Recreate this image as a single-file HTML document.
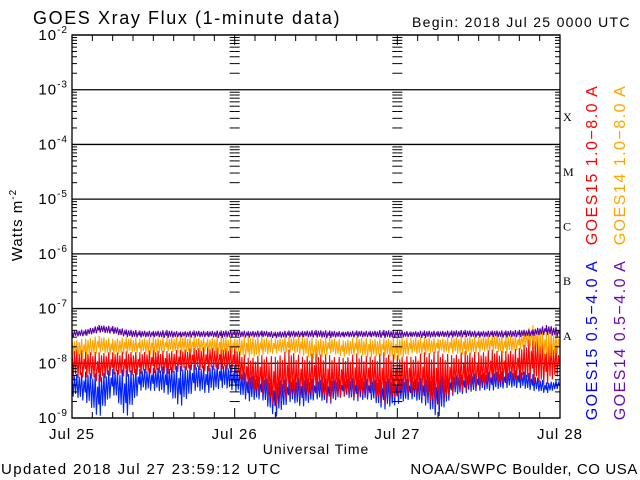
<!DOCTYPE html>
<html><head><meta charset="utf-8"><style>
html,body{margin:0;padding:0;background:#fff;}
svg{display:block;font-family:"Liberation Sans",sans-serif;}
</style></head><body>
<svg id="chart" width="640" height="480" viewBox="0 0 640 480" xmlns="http://www.w3.org/2000/svg">
<rect width="640" height="480" fill="#fff"/>
<text x="33" y="24" font-size="18" letter-spacing="1.6" fill="#000">GOES Xray Flux (1-minute data)</text>
<text x="412" y="27" font-size="14" letter-spacing="1.3" fill="#000">Begin:  2018 Jul 25 0000 UTC</text>
<text transform="translate(22,225) rotate(-90)" text-anchor="middle" font-size="15" letter-spacing="1" fill="#000">Watts m<tspan dy="-6" font-size="10">-2</tspan></text>
<text x="316" y="454" text-anchor="middle" font-size="14" letter-spacing="1" fill="#000">Universal Time</text>
<text x="1" y="474" font-size="15" letter-spacing="1.4" fill="#000">Updated 2018 Jul 27 23:59:12 UTC</text>
<text x="638" y="474" text-anchor="end" font-size="15" letter-spacing="0.6" fill="#000">NOAA/SWPC Boulder, CO USA</text>
<g id="plot"></g>
<g id="series"></g>
<g id="axes"></g>
<text transform="translate(597,165) rotate(-90)" text-anchor="middle" font-size="16" letter-spacing="1.5" fill="#ff0000">GOES15 1.0−8.0 A</text>
<text transform="translate(625,165) rotate(-90)" text-anchor="middle" font-size="16" letter-spacing="1.5" fill="#ffa500">GOES14 1.0−8.0 A</text>
<text transform="translate(597,340) rotate(-90)" text-anchor="middle" font-size="16" letter-spacing="1.5" fill="#0000ff">GOES15 0.5−4.0 A</text>
<text transform="translate(625,340) rotate(-90)" text-anchor="middle" font-size="16" letter-spacing="1.5" fill="#6a0dad">GOES14 0.5−4.0 A</text>
</svg>
<script>
// 2-hour bins over 3 days (37 points), values are log10(flux)
const dayLabels = ["Jul 25","Jul 26","Jul 27","Jul 28"];
const decadeExps = [-2,-3,-4,-5,-6,-7,-8,-9];
const classLetters = ["X","M","C","B","A"];
const goes14ShortHi = [-7.40,-7.38,-7.30,-7.32,-7.38,-7.40,-7.41,-7.39,-7.42,-7.40,-7.41,-7.40,-7.39,-7.41,-7.40,-7.42,-7.40,-7.41,-7.39,-7.40,-7.42,-7.40,-7.41,-7.39,-7.40,-7.42,-7.40,-7.41,-7.40,-7.39,-7.41,-7.40,-7.40,-7.39,-7.38,-7.30,-7.35];
const goes14ShortLo = [-7.52,-7.50,-7.44,-7.46,-7.52,-7.53,-7.52,-7.54,-7.52,-7.53,-7.52,-7.54,-7.52,-7.53,-7.52,-7.54,-7.53,-7.52,-7.53,-7.54,-7.52,-7.53,-7.52,-7.54,-7.53,-7.52,-7.54,-7.52,-7.53,-7.52,-7.53,-7.52,-7.53,-7.52,-7.50,-7.48,-7.52];
const goes14LongHi = [-7.58,-7.55,-7.50,-7.55,-7.52,-7.55,-7.52,-7.54,-7.50,-7.52,-7.55,-7.50,-7.55,-7.50,-7.52,-7.55,-7.52,-7.50,-7.55,-7.52,-7.58,-7.52,-7.55,-7.55,-7.52,-7.54,-7.52,-7.55,-7.52,-7.50,-7.52,-7.48,-7.50,-7.48,-7.30,-7.40,-7.45];
const goes14LongLo = [-7.85,-7.90,-7.80,-7.85,-7.82,-7.80,-7.85,-7.78,-7.82,-7.80,-7.78,-7.85,-7.80,-7.92,-7.85,-7.82,-7.80,-7.85,-7.95,-7.82,-7.88,-7.85,-7.90,-7.85,-7.95,-7.82,-7.85,-7.80,-7.82,-7.85,-7.80,-7.78,-7.82,-7.75,-7.70,-8.00,-7.80];
const goes15LongHi = [-7.70,-7.78,-7.80,-7.80,-7.78,-7.80,-7.75,-7.78,-7.75,-7.72,-7.70,-7.72,-7.70,-7.90,-7.85,-7.88,-7.75,-7.88,-7.80,-7.85,-7.90,-7.82,-7.88,-7.80,-7.85,-7.88,-7.80,-7.78,-7.85,-7.78,-7.80,-7.75,-7.78,-7.72,-7.50,-7.60,-7.70];
const goes15LongLo = [-8.30,-8.25,-8.35,-8.20,-8.25,-8.20,-8.18,-8.20,-8.15,-8.12,-8.15,-8.10,-8.15,-8.50,-8.55,-8.80,-8.60,-8.65,-8.55,-8.70,-8.60,-8.65,-8.55,-8.75,-8.60,-8.55,-8.65,-8.80,-8.55,-8.50,-8.45,-8.40,-8.35,-8.30,-8.35,-8.40,-8.20];
const goes15ShortHi = [-8.20,-8.15,-8.20,-8.10,-8.12,-8.10,-8.08,-8.05,-8.05,-8.02,-8.05,-8.00,-8.05,-8.20,-8.25,-8.30,-8.30,-8.25,-8.30,-8.28,-8.30,-8.25,-8.30,-8.28,-8.25,-8.30,-8.25,-8.20,-8.22,-8.20,-8.18,-8.15,-8.15,-8.12,-8.20,-8.35,-8.30];
const goes15ShortLo = [-8.60,-8.70,-9.00,-8.55,-9.00,-8.50,-8.50,-8.55,-8.80,-8.50,-8.55,-8.45,-8.50,-8.70,-8.65,-9.00,-8.70,-8.80,-8.65,-8.75,-8.60,-8.70,-8.65,-8.85,-8.75,-8.65,-8.75,-9.00,-8.60,-8.55,-8.50,-8.50,-8.45,-8.45,-8.50,-8.55,-8.45];

const NS="http://www.w3.org/2000/svg";
const L=72, R=560, T=35, B=418;
const xOf = h => L + (h/72)*(R-L);       // hours since start
const yOf = e => T + (-2 - e)/7*(B-T);   // log10 exponent
function mk(tag, attrs, parent){const el=document.createElementNS(NS,tag);for(const k in attrs)el.setAttribute(k,attrs[k]);parent.appendChild(el);return el;}

const plot=document.getElementById('plot');
const axes=document.getElementById('axes');
const series=document.getElementById('series');

decadeExps.forEach(e=>{
  const y=yOf(e);
  const ln=mk('line',{x1:L,x2:R,y1:y,y2:y,stroke:'#000','stroke-width':1.3},plot);
  
  
  const t=mk('text',{x:L-4,y:y+5,'text-anchor':'end','font-size':15,'letter-spacing':1,fill:'#000'},axes);
  
  
  t.textContent='10';
  const s=mk('tspan',{dy:-7,'font-size':10},t); s.textContent=String(e);
});
const xsMinor=[[L,1],[R,-1],[xOf(24),1],[xOf(24),-1],[xOf(48),1],[xOf(48),-1]];
for(let e=-9;e<-2;e++){
  for(let m=2;m<=9;m++){
    const y=yOf(e+Math.log10(m));
    xsMinor.forEach(([x,d])=>{mk('line',{x1:x,x2:x+d*5,y1:y,y2:y,stroke:'#000','stroke-width':1},axes);});
  }
}
const fr=mk('rect',{x:L,y:T,width:R-L,height:B-T,fill:'none',stroke:'#000','stroke-width':1.3},axes);


for(let h=0;h<=72;h+=3){
  const x=xOf(h), len=(h%24===0)?10:6;
  mk('line',{x1:x,x2:x,y1:B,y2:B-len,stroke:'#000'},axes);
  mk('line',{x1:x,x2:x,y1:T,y2:T+len,stroke:'#000'},axes);
}
dayLabels.forEach((d,i)=>{
  const t=mk('text',{x:xOf(i*24),y:439,'text-anchor':'middle','font-size':15,'letter-spacing':1,fill:'#000'},axes);
  
  
  t.textContent=d;
});
classLetters.forEach((c,i)=>{
  const t=mk('text',{x:563,y:yOf(-3.5-i)+4,'font-size':12,'font-family':'Liberation Serif, serif',fill:'#000'},axes);
  
  
  t.textContent=c;
});
// rendering texture: fraction of the hi/lo range reached by successive strokes
const texture=[1,0.35,0.8,0.15,0.95,0.5,0.7,0.25,1,0.6,0.4,0.9];
function band(hi,lo,color,name){
  const n=hi.length, step=72/(n-1);
  const pts=[];
  let k=0;
  for(let i=0;i<n-1;i++){
    const x0=xOf(i*step), x1=xOf((i+1)*step);
    for(let x=x0;x<x1;x+=1.2){
      const f=(x-x0)/(x1-x0);
      const h=hi[i]+(hi[i+1]-hi[i])*f, l=lo[i]+(lo[i+1]-lo[i])*f;
      const mid=(h+l)/2, t=texture[k%texture.length];
      const v=(k%2===0)? mid+(h-mid)*t : mid-(mid-l)*texture[(k*5+3)%texture.length];
      pts.push(x.toFixed(1)+','+yOf(v).toFixed(1));
      k++;
    }
  }
  const p=mk('polyline',{points:pts.join(' '),fill:'none',stroke:color,'stroke-width':1.1},series);
  
  
}
band(goes15ShortHi,goes15ShortLo,'#0022ff','series-goes15-0.5-4.0');
band(goes15LongHi,goes15LongLo,'#ff0000','series-goes15-1.0-8.0');
band(goes14LongHi,goes14LongLo,'#ffa500','series-goes14-1.0-8.0');
band(goes14ShortHi,goes14ShortLo,'#5a00a8','series-goes14-0.5-4.0');
</script>
</body></html>
